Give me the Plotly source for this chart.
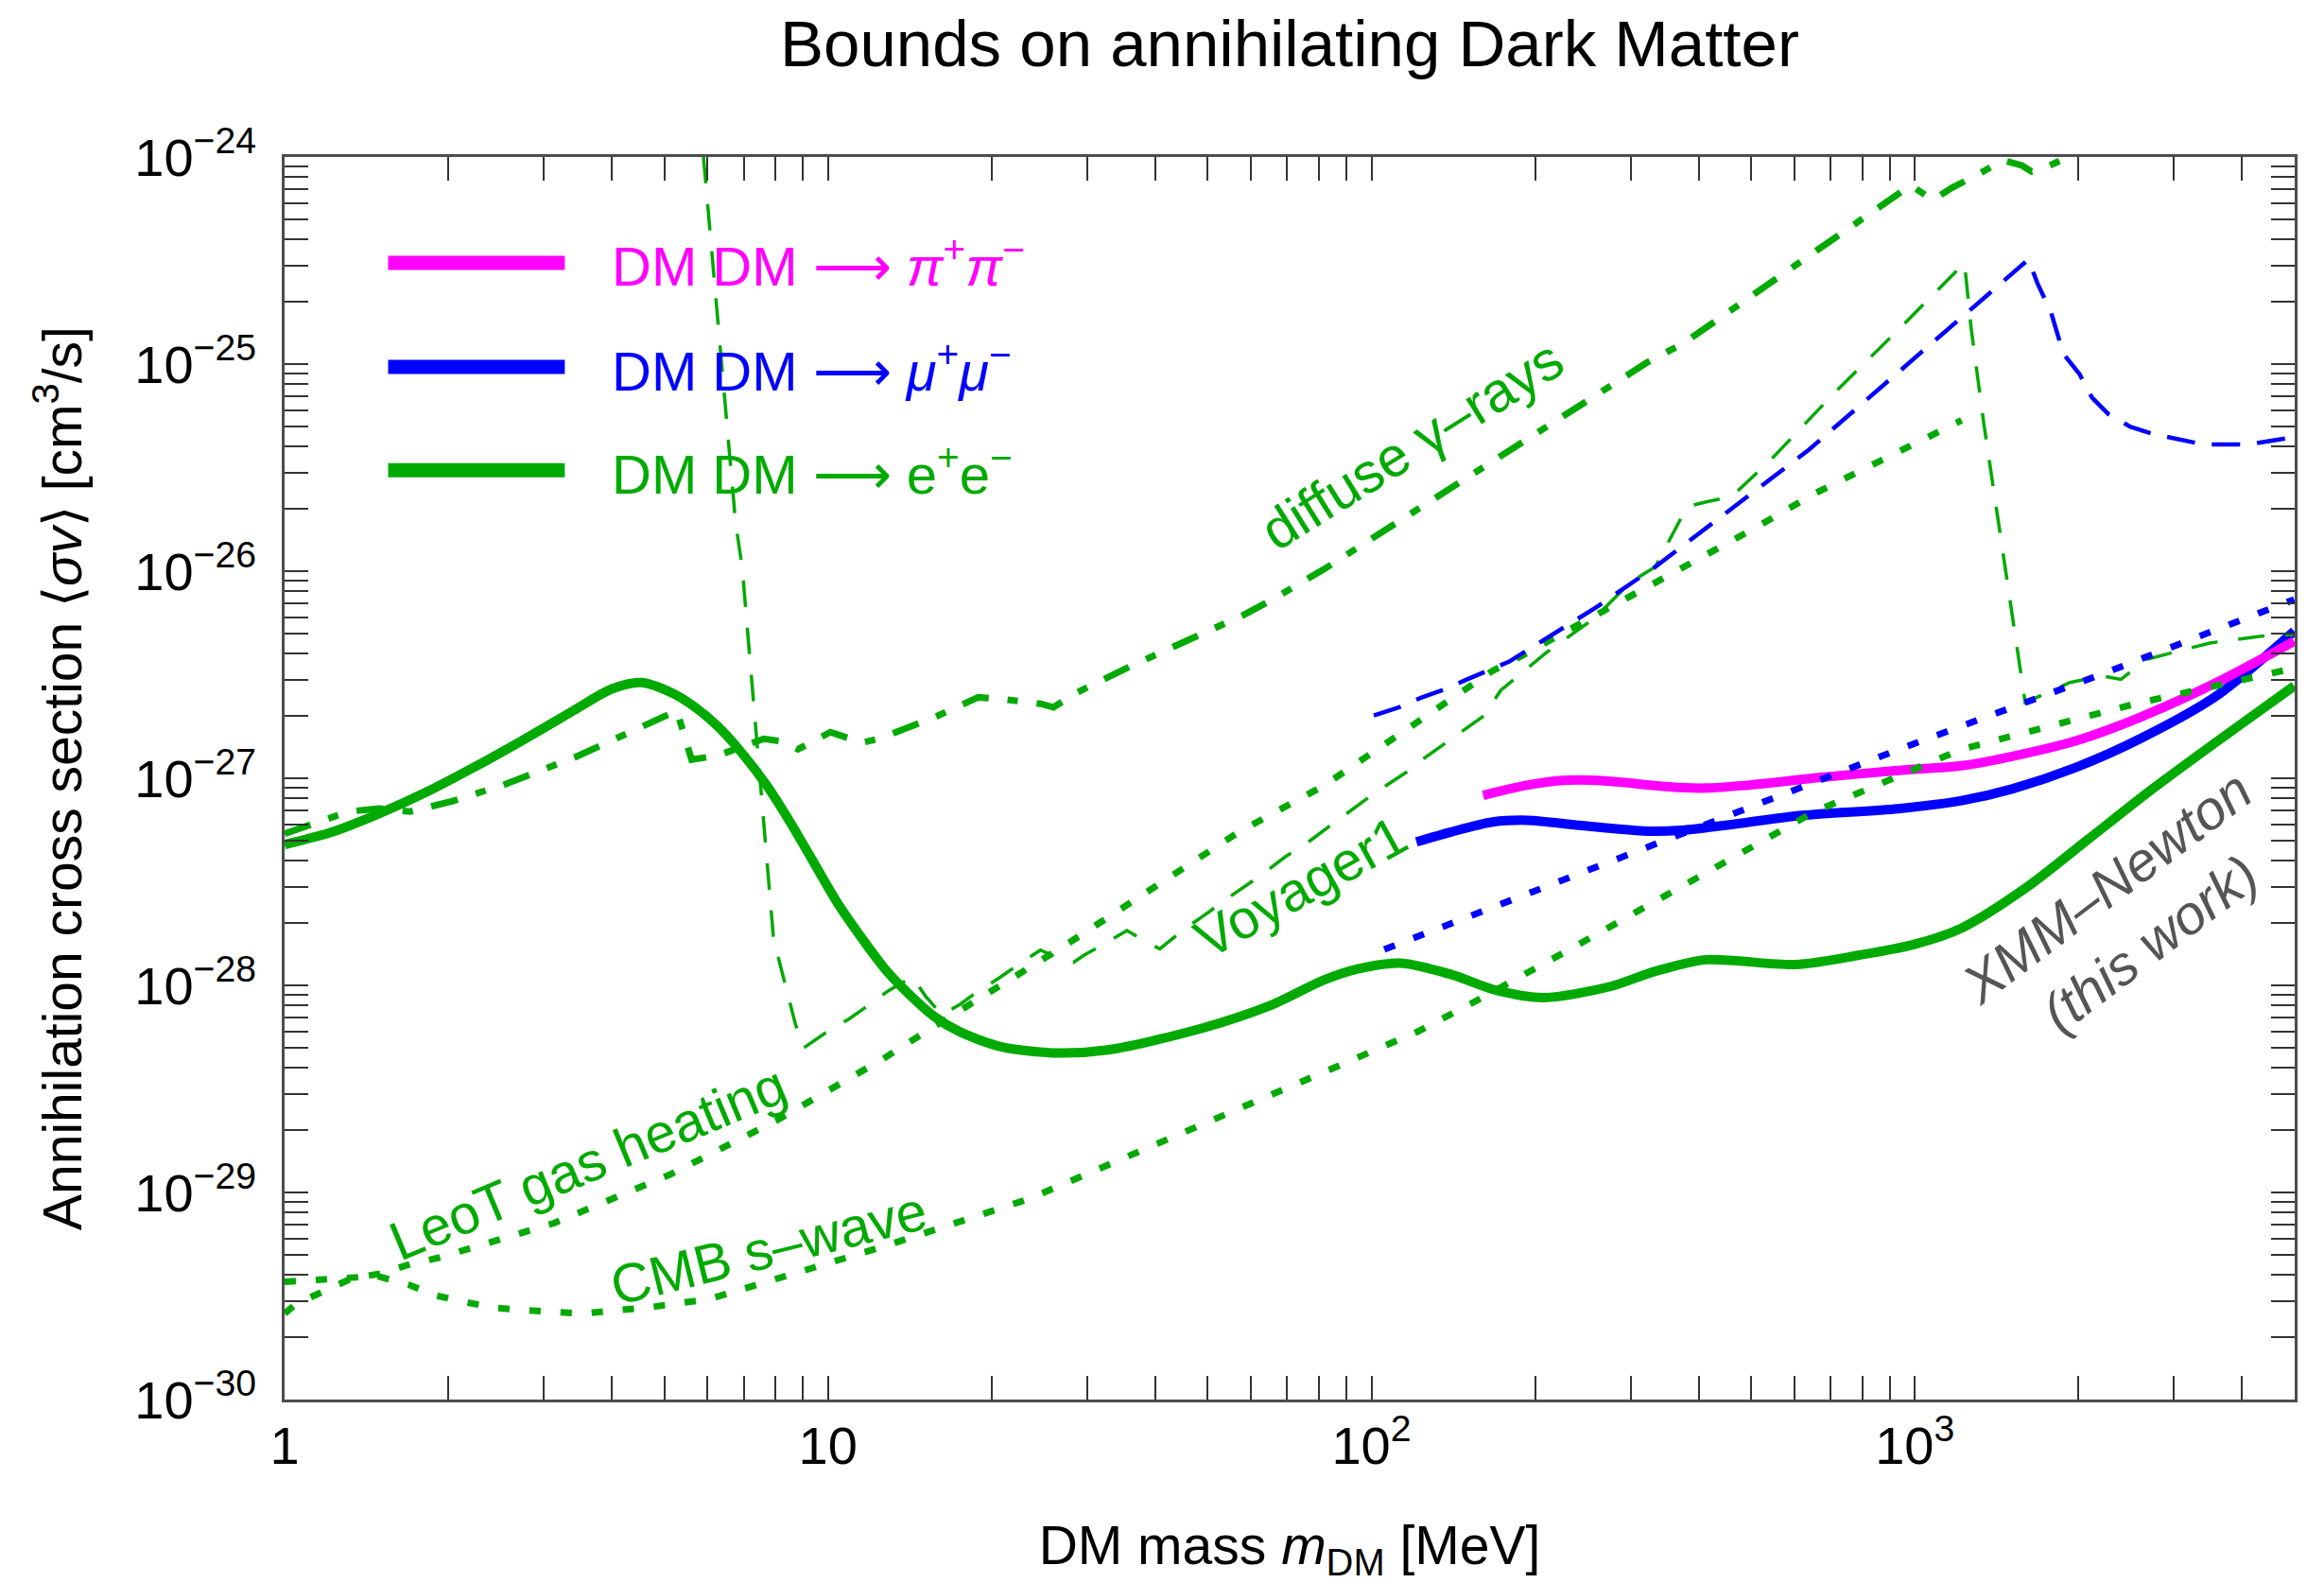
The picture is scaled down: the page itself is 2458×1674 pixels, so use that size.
import math
import plotly.graph_objects as go

# ---------------- data (MeV, cm^3/s) ----------------
# XMM-Newton (this work), DM DM -> e+ e-
xmm_ee_mass = [1, 1.224, 1.50, 1.84, 2.26, 2.77, 3.40, 4.0, 4.53, 5.12, 5.66, 6.27, 6.95, 7.7,
               8.53, 9.44, 10.46, 11.58, 12.83, 14.2, 15.7, 17.4, 20.7, 25.9, 33, 49.2, 65.9,
               81.7, 94.3, 113, 140, 169, 207.6, 275, 333, 413, 603, 791, 982, 1219, 1596,
               2090, 2740, 3590, 4990]
xmm_ee_sv = [4.78e-28, 5.5e-28, 6.78e-28, 8.67e-28, 1.15e-27, 1.55e-27, 2.12e-27, 2.7e-27,
             2.9e-27, 2.61e-27, 2.23e-27, 1.78e-27, 1.32e-27, 9.3e-28, 6.1e-28, 3.87e-28,
             2.45e-28, 1.67e-28, 1.17e-28, 8.9e-29, 7.06e-29, 6.0e-29, 5.07e-29, 4.72e-29,
             4.89e-29, 6.25e-29, 8.1e-29, 1.06e-28, 1.2e-28, 1.28e-28, 1.13e-28, 9.5e-29,
             8.73e-29, 9.87e-29, 1.17e-28, 1.33e-28, 1.26e-28, 1.4e-28, 1.56e-28, 1.89e-28,
             2.94e-28, 5.1e-28, 8.9e-28, 1.5e-27, 2.79e-27]

# XMM-Newton (this work), DM DM -> mu+ mu-
xmm_mumu_mass = [121, 140, 167, 194, 241, 316, 371, 473, 620, 930, 1219, 1514, 1982, 2596, 3590, 4990]
xmm_mumu_sv = [4.93e-28, 5.5e-28, 6.15e-28, 6.27e-28, 5.93e-28, 5.57e-28, 5.61e-28, 6.04e-28,
               6.62e-28, 7.13e-28, 7.8e-28, 8.9e-28, 1.13e-27, 1.55e-27, 2.5e-27, 5.13e-27]

# XMM-Newton (this work), DM DM -> pi+ pi-
xmm_pipi_mass = [160.5, 191, 225, 261, 361, 413, 486, 673, 930, 1219, 1433, 1982, 2596, 3590, 4990]
xmm_pipi_sv = [8.26e-28, 9.2e-28, 9.76e-28, 9.76e-28, 9.06e-28, 8.97e-28, 9.23e-28, 1.01e-27,
               1.09e-27, 1.15e-27, 1.24e-27, 1.52e-27, 1.97e-27, 2.9e-27, 4.59e-27]

# diffuse gamma-rays, e+e- (dash-dotted)
gamma_ee_mass = [1.0, 1.31, 1.49, 1.70, 2.04, 2.53, 3.44, 4.67, 5.27, 5.61, 6.28, 7.62, 8.19,
                 8.8, 10.1, 11.0, 11.5, 12.4, 13.9, 15.7, 18.9, 20.7, 24.6, 26.0, 28.5, 35.9,
                 58.4, 66.0, 81.7, 322, 375, 982, 1079, 1170, 1303, 1452, 1574, 1640, 1755,
                 1902, 2100]
gamma_ee_sv = [5.4e-28, 6.9e-28, 7.15e-28, 6.9e-28, 7.76e-28, 9.3e-28, 1.27e-27, 1.84e-27,
               2.12e-27, 1.23e-27, 1.29e-27, 1.55e-27, 1.51e-27, 1.38e-27, 1.67e-27, 1.55e-27,
               1.48e-27, 1.55e-27, 1.74e-27, 1.97e-27, 2.46e-27, 2.42e-27, 2.29e-27, 2.2e-27,
               2.57e-27, 3.46e-27, 6.17e-27, 7.35e-27, 1.02e-26, 1.02e-25, 1.26e-25, 7.3e-25,
               6.2e-25, 7.1e-25, 8.2e-25, 9.66e-25, 9.1e-25, 8.5e-25, 9.0e-25, 1.0e-24, 1.12e-24]

# CMB s-wave, e+e- (dotted)
cmb_ee_mass = [1, 1.2, 1.48, 1.70, 1.88, 2.14, 2.45, 2.77, 3.16, 3.54, 4.08, 4.62, 5.2, 6.03,
               7.7, 12.7, 23.4, 46.5, 74.7, 122, 157, 240, 654, 1218, 2530, 4990]
cmb_ee_sv = [3.7e-30, 3.82e-30, 3.95e-30, 3.57e-30, 3.2e-30, 2.96e-30, 2.77e-30, 2.7e-30,
             2.62e-30, 2.6e-30, 2.7e-30, 2.77e-30, 2.9e-30, 3.05e-30, 3.7e-30, 5.5e-30,
             9.3e-30, 2.0e-29, 3.44e-29, 6.0e-29, 8.5e-29, 1.57e-28, 6.9e-28, 1.38e-27,
             2.28e-27, 3.4e-27]

# LeoT gas heating, e+e- (dotted)
leot_ee_mass = [1, 1.05, 1.17, 1.33, 1.5, 1.7, 1.92, 3.13, 5.12, 8.02, 12.6, 15.4, 27, 57,
                81.7, 167, 189, 324, 513, 654, 1219]
leot_ee_sv = [2.6e-30, 2.9e-30, 3.3e-30, 3.85e-30, 4.05e-30, 4.5e-30, 4.84e-30, 7.1e-30,
              1.22e-29, 2.22e-29, 4.4e-29, 6.15e-29, 1.53e-28, 5.5e-28, 9.2e-28, 3.3e-27,
              3.9e-27, 8.4e-27, 1.64e-26, 2.37e-26, 5.35e-26]

# Voyager1, e+e- (thin dashed)
voy_ee_mass = [5.9, 6.76, 6.95, 7.94, 8.71, 9.03, 9.85, 10.9, 11.7, 12.9, 14.3, 15.1, 16.2,
               17.5, 18.7, 20.7, 22.2, 24.6, 26.6, 28.3, 29.6, 31.9, 35.5, 38.2, 40.8, 42.5,
               45.4, 50.1, 53.7, 59.3, 63.4, 69.6, 75.4, 83.2, 88.5, 97.7, 105, 116, 124, 137,
               147, 161, 173, 210, 258, 299, 333, 381, 413, 460, 542, 709, 955, 1234, 1269,
               1338, 1553, 1596, 1930, 2207, 2394, 2668, 3491, 4337, 4990]
voy_ee_sv = [1.0e-24, 1.71e-26, 1.05e-26, 1.67e-28, 6.5e-29, 5.0e-29, 5.85e-29, 6.85e-29,
             7.8e-29, 9.4e-29, 1.1e-28, 8.9e-29, 7.2e-29, 8.1e-29, 9.2e-29, 1.09e-28, 1.24e-28,
             1.48e-28, 1.35e-28, 1.29e-28, 1.4e-28, 1.56e-28, 1.84e-28, 1.64e-28, 1.5e-28,
             1.64e-28, 1.88e-28, 2.25e-28, 2.58e-28, 3.08e-28, 3.48e-28, 4.2e-28, 4.78e-28,
             5.8e-28, 6.55e-28, 7.9e-28, 9.0e-28, 1.07e-27, 1.23e-27, 1.49e-27, 1.69e-27,
             2.0e-27, 2.66e-27, 4.05e-27, 5.96e-27, 8.8e-27, 1.05e-26, 2.05e-26, 2.16e-26,
             2.29e-26, 3.43e-26, 7.2e-26, 1.56e-25, 3.08e-25, 1.5e-25, 5.25e-26, 3.65e-27,
             2.32e-27, 2.9e-27, 3.12e-27, 3.0e-27, 3.75e-27, 4.5e-27, 4.85e-27, 4.95e-27]

# Voyager1, mu+mu- (blue dashed)
voy_mumu_mass = [101, 114, 123, 137, 149, 167, 179, 261, 333, 637, 1251, 1618, 1685, 1778, 1877,
                 2009, 2118, 2268, 2495, 2740, 3400, 4110, 4990]
voy_mumu_sv = [2.01e-27, 2.23e-27, 2.44e-27, 2.7e-27, 2.98e-27, 3.37e-27, 3.65e-27, 6.77e-27,
               1.05e-26, 3.84e-26, 1.8e-25, 3.2e-25, 2.42e-25, 1.8e-25, 1.12e-25, 8.95e-26,
               6.9e-26, 5.75e-26, 4.97e-26, 4.6e-26, 4.09e-26, 4.09e-26, 4.44e-26]

# CMB, mu+mu- (blue dotted)
cmb_mumu_mass = [105.6, 315, 942, 2207, 4990]
cmb_mumu_sv = [1.49e-28, 4.58e-28, 1.39e-27, 3.18e-27, 7.3e-27]

# axis ticks
x_major = [1, 10, 100, 1000]
x_major_text = ["1", "10", "10<sup>2</sup>", "10<sup>3</sup>"]
x_minor = [2, 3, 4, 5, 6, 7, 8, 9, 20, 30, 40, 50, 60, 70, 80, 90,
           200, 300, 400, 500, 600, 700, 800, 900, 2000, 3000, 4000]
y_major = [1e-30, 1e-29, 1e-28, 1e-27, 1e-26, 1e-25, 1e-24]
y_major_text = ["10<sup>−30</sup>", "10<sup>−29</sup>", "10<sup>−28</sup>", "10<sup>−27</sup>",
                "10<sup>−26</sup>", "10<sup>−25</sup>", "10<sup>−24</sup>"]
y_minor = [m * d for d in [1e-30, 1e-29, 1e-28, 1e-27, 1e-26, 1e-25] for m in range(2, 10)]

legend_labels = ["DM DM ⟶ <i>π</i><sup>+</sup><i>π</i><sup>−</sup>",
                 "DM DM ⟶ <i>μ</i><sup>+</sup><i>μ</i><sup>−</sup>",
                 "DM DM ⟶ e<sup>+</sup>e<sup>−</sup>"]

# ---------------- styling ----------------
GREEN = "#00AA00"
BLUE = "#0000FF"
MAGENTA = "#FF00FF"
LABEL_GRAY = "#555555"
FONT = "Liberation Sans, Arial, Helvetica, sans-serif"

W, H = 2458, 1674
ML, MR, MT, MB = 301, 31, 166, 194

fig = go.Figure()


def curve(x, y, color, width, dash="solid", spline=False, name=""):
    line = dict(color=color, width=width, dash=dash)
    if spline:
        line.update(shape="spline", smoothing=0.8)
    fig.add_trace(go.Scatter(x=x, y=y, mode="lines", line=line, name=name,
                             showlegend=False, hoverinfo="skip"))


# XMM-Newton results (drawn first, bounds over them as in the reference)
curve(xmm_ee_mass, xmm_ee_sv, GREEN, 10, spline=True, name="XMM e+e-")
curve(xmm_mumu_mass, xmm_mumu_sv, BLUE, 10, spline=True, name="XMM mu+mu-")
curve(xmm_pipi_mass, xmm_pipi_sv, MAGENTA, 10, spline=True, name="XMM pi+pi-")

DOT = "12px,21px"
DASHDOT = "29px,20px,11px,20px"
THIN_DASH = "28px,22px"
BLUE_DASH = "30px,18px"

curve(gamma_ee_mass, gamma_ee_sv, GREEN, 7, DASHDOT, name="diffuse gamma")
curve(cmb_ee_mass, cmb_ee_sv, GREEN, 7, DOT, name="CMB e+e-")
curve(leot_ee_mass, leot_ee_sv, GREEN, 7, DOT, name="LeoT e+e-")
curve(voy_ee_mass, voy_ee_sv, GREEN, 3.5, THIN_DASH, name="Voyager1 e+e-")
curve(voy_mumu_mass, voy_mumu_sv, BLUE, 4.5, BLUE_DASH, name="Voyager1 mu+mu-")
curve(cmb_mumu_mass, cmb_mumu_sv, BLUE, 7, DOT, name="CMB mu+mu-")

# ---------------- manual legend (long line keys) ----------------
legend_colors = [MAGENTA, BLUE, GREEN]
legend_rows = [0.9148, 0.831, 0.748]
shapes = []
annotations = []
for lab, col, yy in zip(legend_labels, legend_colors, legend_rows):
    shapes.append(dict(type="line", xref="paper", yref="paper", x0=0.0515, x1=0.1394,
                       y0=yy, y1=yy, line=dict(color=col, width=15)))
    annotations.append(dict(text=lab, xref="paper", yref="paper", x=0.1616, y=yy,
                            xanchor="left", yanchor="middle", showarrow=False,
                            font=dict(family=FONT, size=58, color=col)))

# ---------------- curve labels ----------------
curve_labels = [
    ("diffuse γ–rays", 0.5608, 0.7679, -32, GREEN, 59),
    ("Voyager1", 0.5055, 0.4128, -29, GREEN, 58),
    ("LeoT gas heating", 0.1507, 0.191, -22.5, GREEN, 58),
    ("CMB s–wave", 0.2409, 0.1218, -14, GREEN, 58),
    ("<i>XMM–Newton</i><br><i>(this work)</i>", 0.9168, 0.3896, -37, LABEL_GRAY, 58),
]
for txt, xx, yy, ang, col, fs in curve_labels:
    annotations.append(dict(text=txt, xref="paper", yref="paper", x=xx, y=yy,
                            xanchor="center", yanchor="middle", textangle=ang,
                            showarrow=False, align="center",
                            font=dict(family=FONT, size=fs, color=col)))

axis_common = dict(
    type="log", showline=True, linecolor="#4d4d4d", linewidth=2.5, mirror="allticks",
    ticks="inside", ticklen=25, tickwidth=1.5, tickcolor="#333333",
    showgrid=False, zeroline=False, tickmode="array",
    tickfont=dict(family=FONT, size=56, color="black"),
    automargin=False,
)

fig.update_layout(
    width=W, height=H,
    margin=dict(l=ML, r=MR, t=MT, b=MB, autoexpand=False),
    paper_bgcolor="white", plot_bgcolor="white",
    font=dict(family=FONT, size=56, color="black"),
    title=dict(text="Bounds on annihilating Dark Matter", x=0.5, xref="paper",
               xanchor="center", y=1 - 46 / H, yref="container", yanchor="middle",
               font=dict(family=FONT, size=69, color="black")),
    xaxis=dict(axis_common, range=[0, math.log10(5000)], tickvals=x_major,
               ticktext=x_major_text, ticklabelstandoff=-2,
               minor=dict(ticks="inside", ticklen=25, tickwidth=1.5, tickcolor="#333333",
                          tickvals=x_minor, showgrid=False),
               title=dict(text="DM mass <i>m</i><sub>DM</sub> [MeV]", standoff=80,
                          font=dict(family=FONT, size=57, color="black"))),
    yaxis=dict(axis_common, range=[-30, -24], tickvals=y_major, ticktext=y_major_text,
               ticklabelstandoff=16,
               minor=dict(ticks="inside", ticklen=25, tickwidth=1.5, tickcolor="#333333",
                          tickvals=y_minor, showgrid=False),
               title=dict(text="Annihilation cross section ⟨<i>σv</i>⟩ [cm<sup>3</sup>/s]",
                          standoff=38, font=dict(family=FONT, size=57, color="black"))),
    shapes=shapes,
    annotations=annotations,
    showlegend=False,
)

fig.write_html("out.html")
